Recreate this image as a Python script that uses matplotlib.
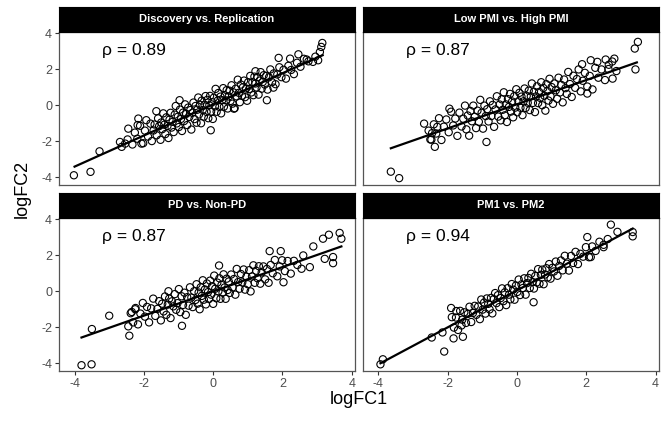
#!/usr/bin/env python

# ---- IMPORT MODULES

import numpy as np
import matplotlib.pyplot as plt

plt.rcParams['font.family'] = ['Liberation Sans', 'DejaVu Sans']
plt.rcParams['axes.unicode_minus'] = False

# ---- DATA

titles = ["Discovery vs. Replication", "Low PMI vs. High PMI",
          "PD vs. Non-PD", "PM1 vs. PM2"]
rho_labels = ["0.89", "0.87", "0.87", "0.94"]

# end points of the fitted lines, as drawn in the reference
fit_x = [[-4.00, 3.16], [-3.64, 3.46], [-3.80, 3.70], [-3.94, 3.34]]
fit_y = [[-3.41, 2.78], [-2.39, 2.38], [-2.57, 2.49], [-4.00, 3.48]]

# panel 1 : Discovery vs. Replication
x1 = [-4.02, -3.54, -3.28, -2.69, -2.64, -2.54, -2.45, -2.16, -2.18, -2.07,
      -1.64, -0.97, -0.07, 0.60, 1.55, 1.22, 1.89, 2.22, 2.46, 2.70,
      3.03, 3.08, 3.12, 3.15, 2.95, 1.74,
      -2.47, -2.33, -2.26, -2.19, -2.11, -2.02, -1.97, -1.93, -1.88, -1.81,
      -1.77, -1.72, -1.69, -1.63, -1.59, -1.56, -1.52, -1.50,
      -1.47, -1.44, -1.41, -1.38, -1.35, -1.32, -1.29, -1.26, -1.23, -1.20,
      -1.17, -1.14, -1.11, -1.08, -1.05, -1.02, -0.99, -0.96, -0.93, -0.90,
      -0.87, -0.84, -0.81, -0.78, -0.75, -0.72, -0.69, -0.66, -0.63, -0.60,
      -0.57, -0.54, -0.51,
      -0.48, -0.46, -0.43, -0.41, -0.38, -0.35, -0.33, -0.30, -0.27, -0.25,
      -0.22, -0.19, -0.17, -0.14, -0.11, -0.09, -0.06, -0.03, -0.01, 0.02,
      0.05, 0.07, 0.10, 0.13, 0.15, 0.18, 0.21, 0.23, 0.26, 0.29,
      0.31, 0.34, 0.37, 0.39, 0.42, 0.45, 0.47, 0.50,
      0.53, 0.56, 0.59, 0.62, 0.65, 0.68, 0.71, 0.74, 0.77, 0.80,
      0.83, 0.86, 0.89, 0.92, 0.95, 0.98, 1.01, 1.04, 1.07, 1.10,
      1.13, 1.16, 1.19, 1.22, 1.25, 1.28, 1.31, 1.34, 1.37, 1.40,
      1.43, 1.46, 1.49,
      1.53, 1.57, 1.61, 1.65, 1.70, 1.75, 1.80, 1.85, 1.91, 1.97,
      2.03, 2.10, 2.17, 2.25, 2.33, 2.42, 2.52, 2.62, 2.75, 2.88]
y1 = [-3.89, -3.70, -2.56, -2.04, -2.31, -2.13, -1.30, -0.74, -1.10, -2.13,
      -0.33, 0.28, -1.39, -0.19, 0.28, 1.89, 2.63, 2.59, 2.83, 2.54,
      2.50, 2.96, 3.24, 3.46, 2.70, 0.98,
      -1.90, -2.18, -1.52, -1.86, -1.14, -2.11, -1.41, -0.83, -1.74, -1.02,
      -1.99, -1.40, -1.07, -1.67, -0.73, -1.16, -1.92, -0.96,
      -1.33, -0.45, -1.08, -1.60, -0.67, -1.15, -1.82, -0.80, -0.42, -1.24,
      -0.92, -1.49, -0.52, -0.04, -1.01, -0.64, -1.21, -0.24, -0.76, -1.43,
      -0.41, -0.88, 0.05, -0.48, -1.10, -0.13, -0.65, -0.27, -1.35, -0.42,
      0.15, -0.77, -0.04,
      -0.97, -0.25, 0.43, -0.51, 0.02, -1.00, 0.26, -0.26, -0.63, 0.03,
      0.51, -0.37, 0.30, -0.72, 0.00, 0.52, -0.35, 0.17, -0.76, 0.42,
      -0.06, 0.91, -0.36, 0.26, 0.68, -0.09, 0.48, -0.45, 0.28, 0.95,
      -0.08, 0.55, 0.27, 0.84, -0.18, 0.49, 0.81, 0.24,
      1.11, 0.09, 0.71, -0.16, 0.92, 0.49, 1.42, 0.69, 0.17, 1.15,
      0.52, 1.00, 1.37, 0.45, 0.93, 0.25, 1.28, 0.90, 1.63, 0.71,
      1.28, 0.56, 1.59, 1.21, 0.99, 1.56, 0.59, 1.37, 1.84, 0.92,
      1.29, 1.67, 1.15,
      1.63, 0.87, 1.55, 1.99, 1.28, 1.77, 1.17, 1.71, 2.11, 1.56,
      1.97, 1.48, 2.19, 1.96, 1.73, 2.36, 2.14, 2.58, 2.44, 2.41]

# panel 2 : Low PMI vs. High PMI
x2 = [-3.64, -3.40, -2.68, -1.95, -2.37, -0.88, 1.88, 2.13, 2.32, 2.56,
      2.81, 3.42, 3.40, 3.49, 2.76, 2.03, -2.45, -2.50, -2.30, 2.65,
      -2.55, -2.47, -2.40, -2.33, -2.25, -2.18, -2.11, -2.04, -1.97, -1.90,
      -1.84, -1.78, -1.72, -1.66, -1.60, -1.55, -1.50,
      -1.46, -1.42, -1.38, -1.34, -1.30, -1.26, -1.22, -1.18, -1.14, -1.10,
      -1.06, -1.02, -0.98, -0.94, -0.90, -0.86, -0.82, -0.78, -0.74, -0.70,
      -0.66, -0.62, -0.58, -0.54, -0.50,
      -0.47, -0.44, -0.41, -0.38, -0.35, -0.32, -0.29, -0.26, -0.23, -0.20,
      -0.17, -0.14, -0.11, -0.08, -0.05, -0.02, 0.01, 0.04, 0.07, 0.10,
      0.13, 0.16, 0.19, 0.22, 0.25, 0.28, 0.31, 0.34, 0.37, 0.40,
      0.43, 0.46, 0.49,
      0.52, 0.55, 0.58, 0.61, 0.64, 0.67, 0.70, 0.73, 0.76, 0.79,
      0.82, 0.85, 0.88, 0.91, 0.94, 0.97, 1.00, 1.04, 1.08, 1.12,
      1.16, 1.20, 1.24, 1.28, 1.32, 1.36, 1.40, 1.44, 1.48,
      1.53, 1.58, 1.63, 1.68, 1.73, 1.78, 1.84, 1.90, 1.96, 2.03,
      2.10, 2.18, 2.26, 2.35, 2.44, 2.54, 2.64, 2.75, 2.87]
y2 = [-3.69, -4.05, -1.02, -0.19, -2.31, -2.04, 2.28, 2.50, 2.41, 2.54,
      2.59, 1.99, 3.15, 3.52, 1.48, 0.65, -1.55, -1.90, -1.20, 2.25,
      -1.41, -1.91, -1.06, -1.57, -0.72, -1.93, -1.19, -0.79, -1.50, -0.36,
      -1.12, -0.74, -1.70, -0.41, -1.18, -0.75, -0.02,
      -1.34, -0.57, -1.69, -0.32, -0.89, -0.02, -0.64, -1.27, -0.30, -0.92,
      0.30, -0.42, -1.30, -0.02, -0.60, -0.22, -0.90, 0.22, -0.60, 0.02,
      -1.20, -0.23, 0.50, -0.63, 0.04,
      -0.84, 0.33, -0.25, 0.72, -0.56, 0.05, -0.93, 0.34, -0.09, 0.63,
      -0.35, 0.21, -0.67, 0.50, -0.13, 0.89, -0.39, 0.22, 0.69, -0.14,
      0.48, -0.55, 0.22, 0.93, -0.15, 0.52, 0.14, 0.81, -0.27, 0.49,
      1.21, 0.13, 0.75,
      -0.38, 0.49, 1.05, 0.12, 0.74, 0.41, 1.28, 0.00, 0.96, 0.53,
      -0.30, 1.17, 0.79, 0.26, 1.47, 0.49, 1.01, 0.08, 1.21, 0.83,
      0.36, 1.53, 0.71, 1.13, 0.16, 1.43, 0.95, 0.63, 1.85,
      1.18, 0.46, 1.64, 0.97, 1.46, 1.99, 0.77, 1.36, 1.80, 1.04,
      1.63, 0.88, 2.08, 1.53, 1.99, 1.40, 2.01, 2.43, 1.90]

# panel 3 : PD vs. Non-PD
x3 = [-3.80, -3.51, -3.50, -3.00, -2.42, -0.90, -1.29, 0.17, 1.63, 1.95,
      2.03, 2.60, 2.89, 3.17, 3.34, 3.65, 3.70, 2.55, 2.79, 3.22,
      3.46, 3.46, -2.45, -2.35, -2.25,
      -2.38, -2.31, -2.24, -2.17, -2.10, -2.03, -1.97, -1.91, -1.85, -1.79,
      -1.73, -1.67, -1.61, -1.56, -1.51,
      -1.47, -1.43, -1.39, -1.35, -1.31, -1.27, -1.23, -1.19, -1.15, -1.11,
      -1.07, -1.03, -0.99, -0.95, -0.91, -0.87, -0.83, -0.79, -0.75, -0.71,
      -0.67, -0.63, -0.59, -0.55, -0.51,
      -0.48, -0.45, -0.42, -0.39, -0.36, -0.33, -0.30, -0.27, -0.24, -0.21,
      -0.18, -0.15, -0.12, -0.09, -0.06, -0.03, 0.00, 0.03, 0.06, 0.09,
      0.12, 0.15, 0.18, 0.21, 0.24, 0.27, 0.30, 0.33, 0.36, 0.39,
      0.42, 0.45, 0.48,
      0.52, 0.56, 0.60, 0.64, 0.68, 0.72, 0.76, 0.80, 0.84, 0.88,
      0.92, 0.96, 1.00, 1.04, 1.08, 1.12, 1.16, 1.20, 1.24, 1.28,
      1.32, 1.36, 1.40, 1.45, 1.50,
      1.55, 1.60, 1.66, 1.72, 1.78, 1.85, 1.92, 1.99, 2.07, 2.15,
      2.24, 2.33, 2.43]
y3 = [-4.11, -4.06, -2.10, -1.36, -2.47, -1.92, 0.00, 1.43, 2.23, 2.23,
      0.50, 1.99, 2.49, 2.92, 3.14, 3.24, 2.92, 1.25, 1.34, 1.80,
      1.90, 1.56, -1.95, -1.15, -1.00,
      -1.22, -1.73, -0.93, -1.84, -1.24, -0.65, -1.41, -0.87, -1.73, -0.95,
      -0.41, -1.37, -0.98, -0.55, -1.62,
      -0.69, -1.12, -0.29, -1.31, -0.74, -0.41, -1.49, -0.56, -0.84, -0.16,
      -1.03, -0.66, 0.12, -1.16, -0.28, -0.76, -0.08, -1.31, -0.33, -0.80,
      0.22, -0.35, -0.88, 0.00, -0.48,
      0.39, -0.69, -0.07, -1.00, 0.22, -0.26, 0.61, -0.47, 0.10, -0.73,
      0.43, -0.05, -0.43, 0.59, -0.19, 0.28, -0.70, 0.87, 0.14, -0.39,
      0.48, 0.00, 0.72, -0.42, 0.35, -0.08, 0.94, 0.21, -0.42, 0.70,
      0.07, 0.54, -0.09,
      0.93, 0.21, 0.68, -0.19, 1.24, 0.51, 0.14, 0.96, 0.49, 1.21,
      0.09, 0.81, 0.39, 1.17, -0.01, 0.82, 1.44, 0.47, 1.14, 0.72,
      1.39, 0.42, 1.05, 1.38, 0.66,
      1.24, 0.47, 1.46, 1.00, 1.74, 0.83, 1.38, 1.72, 1.12, 1.68,
      0.98, 1.69, 1.46]

# panel 4 : PM1 vs. PM2
x4 = [-3.94, -3.87, -2.46, -2.10, -2.15, -1.83, -1.56, -1.90, 0.48, 2.71,
      3.34, 3.34, 2.03, 2.13, 2.90, 2.50, -1.75, -1.60,
      -1.88, -1.82, -1.76, -1.70, -1.64, -1.58, -1.52, -1.47, -1.42, -1.37,
      -1.32, -1.27, -1.22, -1.17, -1.12, -1.07, -1.03,
      -0.99, -0.95, -0.91, -0.87, -0.83, -0.79, -0.75, -0.71, -0.67, -0.63,
      -0.59, -0.55, -0.51, -0.47, -0.43, -0.39, -0.35, -0.31, -0.27, -0.23,
      -0.19, -0.15, -0.11, -0.07, -0.03,
      0.01, 0.05, 0.09, 0.13, 0.17, 0.21, 0.25, 0.29, 0.33, 0.37,
      0.41, 0.45, 0.49, 0.53, 0.57, 0.61, 0.65, 0.69, 0.73, 0.77,
      0.81, 0.85, 0.89, 0.93, 0.97,
      1.02, 1.07, 1.12, 1.17, 1.22, 1.27, 1.32, 1.38, 1.44, 1.50,
      1.56, 1.62, 1.69, 1.76, 1.83, 1.91, 1.99, 2.08, 2.17, 2.27,
      2.38, 2.50, 2.62]
y4 = [-4.06, -3.78, -2.57, -3.35, -2.29, -2.62, -2.53, -0.93, -0.61, 3.70,
      3.29, 3.05, 3.01, 1.90, 3.30, 2.45, -1.10, -1.90,
      -1.44, -2.02, -1.46, -2.15, -1.09, -1.58, -1.17, -1.76, -1.26, -0.86,
      -1.71, -1.21, -0.81, -1.31, -0.85, -1.55, -0.46,
      -1.02, -0.63, -1.24, -0.40, -0.70, -1.01, -0.37, -1.23, -0.44, -0.10,
      -0.66, -0.22, -0.88, -0.38, 0.16, -0.55, -0.06, -0.77, 0.17, -0.19,
      -0.45, 0.40, 0.09, -0.47, 0.32,
      -0.04, 0.65, -0.21, 0.38, 0.18, 0.72, -0.19, 0.45, 0.74, 0.18,
      0.97, 0.51, 0.15, 0.85, 0.49, 1.23, 0.42, 0.91, 1.20, 0.39,
      0.93, 1.28, 0.77, 1.51, 0.70,
      1.30, 1.10, 1.65, 0.86, 1.41, 1.71, 1.16, 1.97, 1.53, 1.15,
      1.96, 1.57, 2.19, 1.51, 2.08, 1.92, 2.45, 1.89, 2.49, 2.24,
      2.75, 2.58, 2.90]

xs_all = [x1, x2, x3, x4]
ys_all = [y1, y2, y3, y4]

# ---- LAYOUT

fig = plt.figure(figsize=(6.62, 4.21), dpi=100)

panel_w, panel_h, strip_h = 0.4475, 0.3634, 0.0594
lefts = [0.0891, 0.548, 0.0891, 0.548]
bottoms = [0.5606, 0.5606, 0.1188, 0.1188]

xlim = (-4.45, 4.10)
ylim = (-4.43, 4.07)
ticks = [-4, -2, 0, 2, 4]

for i in range(4):

    # panel
    ax = fig.add_axes([lefts[i], bottoms[i], panel_w, panel_h])
    ax.scatter(xs_all[i], ys_all[i], s=27, facecolors='none',
               edgecolors='black', linewidths=0.8, zorder=2)

    # fitted line
    ax.plot(fit_x[i], fit_y[i], color='black', lw=1.6, zorder=3)

    ax.text(-3.2, 3.05, u"\u03c1 = " + rho_labels[i], fontsize=12.5,
            ha='left', va='center', color='black')

    ax.set_xlim(xlim)
    ax.set_ylim(ylim)
    ax.set_xticks(ticks)
    ax.set_yticks(ticks)
    ax.tick_params(length=3, width=0.8, color='#333333', labelsize=9,
                   labelcolor='#4d4d4d', pad=2)
    if i < 2:
        ax.tick_params(axis='x', length=0, labelbottom=False)
    if i % 2 == 1:
        ax.tick_params(axis='y', length=0, labelleft=False)
    for sp in ax.spines.values():
        sp.set_color('#555555')
        sp.set_linewidth(0.9)

    # strip on top of the panel
    st = fig.add_axes([lefts[i], bottoms[i] + panel_h, panel_w, strip_h])
    st.set_facecolor('black')
    st.set_xticks([])
    st.set_yticks([])
    for sp in st.spines.values():
        sp.set_color('black')
    st.text(0.5, 0.5, titles[i], color='white', fontsize=8, fontweight='bold',
            ha='center', va='center', transform=st.transAxes)

# ---- AXIS TITLES

fig.text(0.5416, 0.052, "logFC1", fontsize=13, ha='center', va='center')
fig.text(0.034, 0.552, "logFC2", fontsize=13, ha='center', va='center',
         rotation=90)

fig.savefig('out.png', dpi=100)
